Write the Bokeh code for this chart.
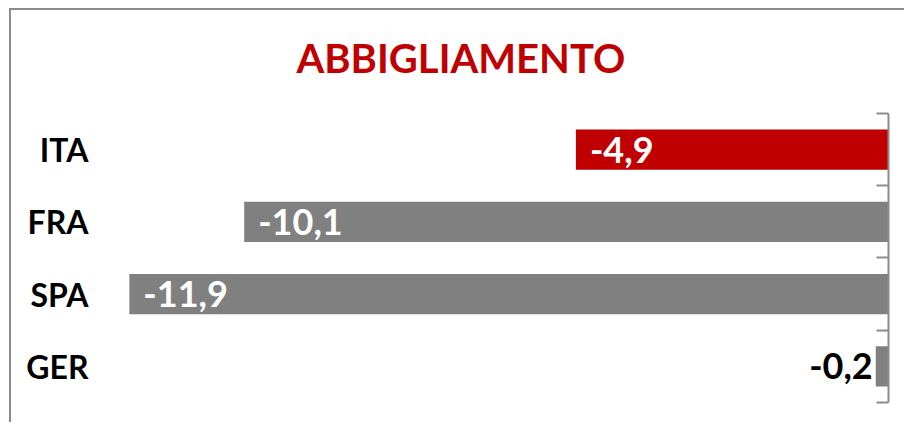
from bokeh.plotting import figure
from bokeh.layouts import column
from bokeh.models import Range1d, LinearAxis, FixedTicker, Title, ColumnDataSource
from bokeh.core.properties import value
from bokeh.embed import file_html
from bokeh.resources import INLINE

# ---- data ----
title_text = "ABBIGLIAMENTO"
categories = ["ITA", "FRA", "SPA", "GER"]
values = [-4.9, -10.1, -11.9, -0.2]
labels = ["-4,9", "-10,1", "-11,9", "-0,2"]
colors = ["#C00000", "#808080", "#808080", "#808080"]

FONT = "Lato"
n = len(categories)
ypos = [n - 1 - i for i in range(n)]

W, H = 893, 412
p = figure(width=W, height=H, output_backend="svg", toolbar_location=None,
           x_range=Range1d(-12.18, 0), y_range=Range1d(-0.777, 3.749),
           min_border_left=100, min_border_right=W - 877, min_border_top=85,
           min_border_bottom=0, x_axis_location=None, y_axis_location=None)
p.outline_line_color = None
p.xgrid.visible = False
p.ygrid.visible = False
p.background_fill_color = "white"
p.border_fill_color = "white"

t = Title(text=title_text, align="left", offset=185, standoff=27,
          text_font=FONT, text_font_style="bold", text_font_size="40px",
          text_color="#C00000")
p.add_layout(t, "above")

src = ColumnDataSource(dict(y=ypos, v=values, lab=labels, c=colors))
p.hbar(y="y", left="v", right=0, height=0.556, fill_color="c", line_color=None, source=src)

inside = [i for i in range(n) if values[i] < -1]
outside = [i for i in range(n) if values[i] >= -1]
src_in = ColumnDataSource(dict(y=[ypos[i] for i in inside], v=[values[i] for i in inside],
                               lab=[labels[i] for i in inside]))
src_out = ColumnDataSource(dict(y=[ypos[i] for i in outside], v=[values[i] for i in outside],
                                lab=[labels[i] for i in outside]))
p.text(x="v", y="y", text="lab", source=src_in, x_offset=14, text_align="left",
       text_baseline="middle", text_color="white", text_font=value(FONT),
       text_font_style="bold", text_font_size="36px")
p.text(x="v", y="y", text="lab", source=src_out, x_offset=-3, text_align="right",
       text_baseline="middle", text_color="black", text_font=value(FONT),
       text_font_style="bold", text_font_size="36px")

# category axis on the left
ly = LinearAxis(ticker=FixedTicker(ticks=ypos))
ly.major_label_overrides = {ypos[i]: categories[i] for i in range(n)}
ly.axis_line_color = None
ly.major_tick_line_color = None
ly.minor_tick_line_color = None
ly.major_tick_out = 0
ly.major_tick_in = 0
ly.major_label_standoff = 23
ly.major_label_text_font = FONT
ly.major_label_text_font_style = "bold"
ly.major_label_text_font_size = "32px"
ly.major_label_text_color = "black"
p.add_layout(ly, "left")

# value axis line at zero with boundary ticks
bounds_ticks = [y - 0.5 for y in sorted(ypos)] + [max(ypos) + 0.5]
ry = LinearAxis(ticker=FixedTicker(ticks=bounds_ticks), bounds=(min(bounds_ticks), max(bounds_ticks)))
ry.major_label_overrides = {b: "" for b in bounds_ticks}
ry.axis_line_color = "#8c8c8c"
ry.axis_line_width = 2
ry.major_tick_line_color = "#8c8c8c"
ry.major_tick_line_width = 2
ry.minor_tick_line_color = None
ry.major_tick_in = 12
ry.major_tick_out = 0
ry.major_label_standoff = 0
p.add_layout(ry, "right")

wrap = column(p, styles={"margin-left": "9px", "margin-top": "8px",
                         "border-left": "2px solid #8c8c8c",
                         "border-top": "2px solid #8c8c8c"})

open("out.html", "w").write(file_html(wrap, INLINE))
